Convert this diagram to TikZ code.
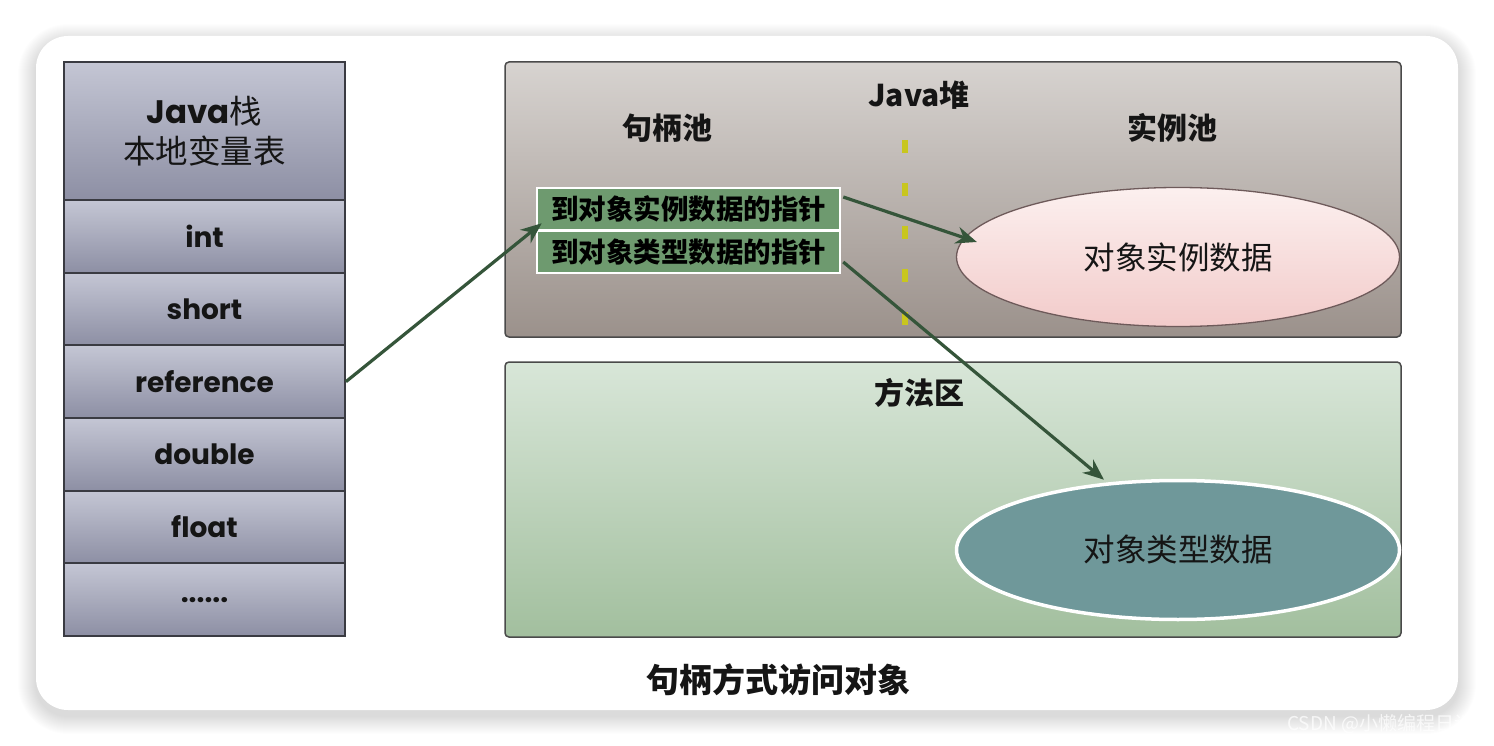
\documentclass[tikz,border=0pt]{standalone}
\usepackage{fontspec}
\setmainfont{Noto Sans CJK SC}
\newfontfamily\geo{Poppins}
\usetikzlibrary{calc,shapes.geometric,arrows.meta}
\definecolor{stacktop}{HTML}{C4C6D4}
\definecolor{stackbot}{HTML}{8D8FA4}
\definecolor{stackline}{HTML}{3A3B42}
\definecolor{heaptop}{HTML}{D7D3D0}
\definecolor{heapbot}{HTML}{9B918B}
\definecolor{methtop}{HTML}{D8E6D8}
\definecolor{methbot}{HTML}{A2BF9E}
\definecolor{boxline}{HTML}{4A4A4A}
\definecolor{ptrgreen}{HTML}{6E9A6F}
\definecolor{arrgreen}{HTML}{35553A}
\definecolor{pinktop}{HTML}{FCF0EF}
\definecolor{pinkbot}{HTML}{F2CBCA}
\definecolor{pinkline}{HTML}{6E5A5A}
\definecolor{teal}{HTML}{6F989A}
\definecolor{dashyel}{HTML}{C8C61E}
\definecolor{txt}{HTML}{151515}
\tikzset{
  cell/.style={draw=stackline, line width=1.8, top color=stacktop, bottom color=stackbot,
    minimum width=281, minimum height=72.67, inner sep=0, text=txt,
    font=\geo\bfseries\fontsize{28}{32}\selectfont},
  region/.style={draw=boxline, line width=1.5, rounded corners=4, minimum width=896,
    minimum height=275, inner sep=0},
  lbl/.style={text=txt, inner sep=0, font=\bfseries\fontsize{30}{34}\selectfont},
  ptr/.style={draw=white, line width=2.5, fill=ptrgreen, minimum width=303,
    minimum height=42, inner sep=0, text=black, font=\bfseries\fontsize{27.5}{30}\selectfont},
  oval/.style={ellipse, minimum width=443, minimum height=139, inner sep=0, text=txt,
    font=\fontsize{31.5}{34}\selectfont},
  arr/.style={draw=arrgreen, line width=3.2, -{Stealth[length=21pt,width=17pt]}},
  dashln/.style={draw=dashyel, line width=6, dash pattern=on 13pt off 30pt}
}
\begin{document}
\begin{tikzpicture}[x=1pt,y=-1pt]
\useasboundingbox (0,0) rectangle (1494,746);
\fill[white] (0,0) rectangle (1494,746);
% card shadow
\foreach \i in {1,...,18}{
  \pgfmathsetmacro\rr{32+\i}
  \fill[black,opacity=0.009,rounded corners=\rr pt] (36-\i,36-\i+6) rectangle (1458+\i,710+\i+6);
}
\fill[white,rounded corners=32] (36,36) rectangle (1458,710);

% Java stack
\node[cell, minimum height=138, font=\fontsize{32.5}{40}\selectfont, align=center] (hdr) at (204.5,131)
  {{\geo\bfseries Java}栈\\本地变量表};
\node[cell] (c1) at (204.5,236.3) {int};
\node[cell] (c2) at (204.5,309) {short};
\node[cell] (c3) at (204.5,381.7) {reference};
\node[cell] (c4) at (204.5,454.3) {double};
\node[cell] (c5) at (204.5,527) {float};
\node[cell] (c6) at (204.5,599.7) {......};

% Heap
\node[region, top color=heaptop, bottom color=heapbot] (heap) at (953,199.5) {};
\node[lbl] (heapt) at (919,95) {Java堆};
\node[lbl] (hpool) at (667,128) {句柄池};
\node[lbl] (ipool) at (1172,128) {实例池};
\coordinate (dtop) at (905,140);
\coordinate (dbot) at (905,325);
\draw[dashln] (dtop) -- (dbot);
\node[ptr] (p1) at (688.5,209) {到对象实例数据的指针};
\node[ptr] (p2) at (688.5,252) {到对象类型数据的指针};
\node[oval, draw=pinkline, line width=1.3, top color=pinktop, bottom color=pinkbot] (e1) at (1178,257) {对象实例数据};

% Method area
\node[region, top color=methtop, bottom color=methbot] (meth) at (953,499.5) {};
\node[lbl] (metht) at (919,393) {方法区};
\node[oval, draw=white, line width=3.5, fill=teal] (e2) at (1178,550) {对象类型数据};

% arrows
\draw[arr] (c3.east) -- ($(p1.south west)+(6,-8)$);
\draw[arr] ($(p1.east)+(2,-12)$) -- ($(e1.west)+(21,-15)$);
\draw[arr] ($(p2.east)+(2,10)$) -- ($(e2.north)+(-74,1)$);

% caption
\node[lbl, font=\bfseries\fontsize{33}{36}\selectfont] (cap) at (778,680) {句柄方式访问对象};
\node[anchor=west, inner sep=0, text=white, opacity=0.75, font=\fontsize{19}{22}\selectfont] (wm) at (1287,724) {CSDN @小懒编程日记};
\end{tikzpicture}
\end{document}
